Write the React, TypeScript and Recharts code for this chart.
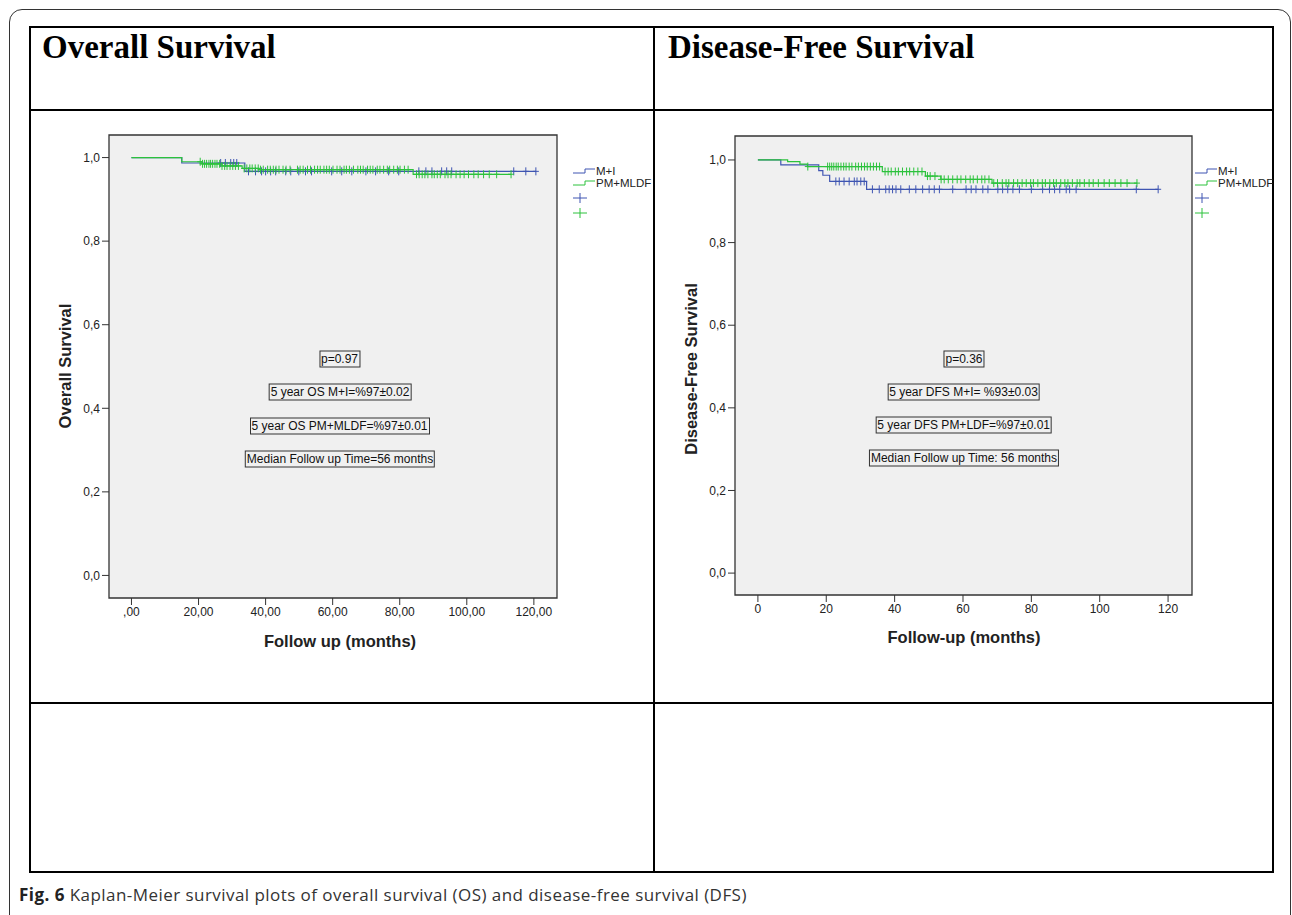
import React from "react";
import { ComposedChart, Line, Scatter, XAxis, YAxis, CartesianGrid, ReferenceArea } from "recharts";

const BLUE = "#3f55b2";
const GREEN = "#2cc23c";

const xTicks = [0, 20, 40, 60, 80, 100, 120];
const osXTickLabels = [",00", "20,00", "40,00", "60,00", "80,00", "100,00", "120,00"];
const dfsXTickLabels = ["0", "20", "40", "60", "80", "100", "120"];
const yTicks = [0, 0.2, 0.4, 0.6, 0.8, 1.0];
const yTickLabels = ["0,0", "0,2", "0,4", "0,6", "0,8", "1,0"];

// Overall survival, step curves (time in months, survival)
const osBlueTimes = [0, 15, 33.8, 120.6];
const osBlueSurv = [1, 0.987, 0.967, 0.967];
const osGreenTimes = [0, 15, 21, 27, 33, 38, 84, 113.2];
const osGreenSurv = [1, 0.99, 0.985, 0.98, 0.974, 0.971, 0.96, 0.96];

// censored cases
const osBlueCensor = [26.6, 28, 29.6, 30.5, 31.4, 34.9, 37, 38.8, 40, 41.5, 43, 46, 47.5, 49.9, 51.9, 53.7, 59.7, 62.7, 65.7, 69.9, 72.8, 76.7, 79.7, 85.7, 87.8, 89.6, 92.5, 94, 95.5, 114, 117.6, 120.6];
const osGreenCensor = [20.5, 21.2, 21.8, 22.4, 23.1, 23.6, 24.2, 24.9, 25.5, 26.3, 27.0, 27.8, 28.5, 29.4, 30.2, 31.0, 31.9, 33.6, 34.4, 35.3, 36.0, 36.9, 37.8, 38.5, 39.3, 40.6, 41.4, 42.3, 43.1, 44.0, 45.2, 46.1, 47.3, 49.5, 50.3, 51.2, 52.5, 53.4, 54.6, 55.5, 56.3, 57.4, 58.2, 59.0, 60.1, 61.3, 62.2, 63.4, 64.1, 65.0, 66.2, 67.5, 68.3, 69.1, 70.4, 71.2, 72.0, 73.3, 74.1, 75.2, 76.3, 77.0, 78.2, 79.3, 80.1, 81.4, 82.5, 85.0, 85.8, 86.7, 87.5, 88.4, 89.6, 90.3, 91.2, 92.1, 93.5, 94.4, 95.3, 96.8, 98.0, 99.2, 100.5, 102.1, 103.4, 105.0, 106.7, 108.9, 113.2];

// Disease-free survival
const dfsBlueTimes = [0, 6.7, 17.8, 19, 21, 31.8, 117.1];
const dfsBlueSurv = [1, 0.988, 0.974, 0.963, 0.948, 0.929, 0.929];
const dfsGreenTimes = [0, 8.7, 12.3, 14.5, 36.4, 49, 53.5, 68.5, 110.9];
const dfsGreenSurv = [1, 0.996, 0.99, 0.984, 0.972, 0.961, 0.953, 0.944, 0.944];

const dfsBlueCensor = [22.8, 23.8, 25.2, 26.7, 28.2, 29.0, 30.1, 31.1, 33.5, 35.5, 37.4, 38.4, 39.4, 40.4, 41.8, 44.3, 46.2, 48.2, 50.1, 51.6, 53.1, 57.0, 60.9, 62.4, 63.8, 65.8, 67.3, 70.2, 71.6, 73.1, 74.6, 76.5, 80.0, 83.3, 85.3, 86.8, 88.3, 90.2, 91.2, 93.1, 110.7, 117.1];
const dfsGreenCensor = [14.6, 20.4, 21.0, 21.6, 22.2, 22.9, 23.5, 24.3, 25.1, 25.8, 26.7, 27.5, 28.6, 29.4, 30.3, 31.2, 32.0, 32.9, 33.8, 34.7, 35.6, 37.2, 38.1, 39.0, 40.2, 41.1, 42.3, 43.5, 44.4, 45.6, 46.8, 48.0, 49.6, 50.4, 51.8, 53.6, 54.5, 55.7, 57.0, 58.3, 59.4, 60.8, 62.1, 63.0, 64.2, 65.5, 66.4, 67.6, 69.0, 70.1, 71.5, 72.6, 73.4, 74.8, 76.0, 77.3, 78.5, 79.8, 80.6, 81.9, 83.2, 84.1, 85.4, 86.5, 87.3, 88.6, 89.8, 90.7, 92.0, 93.4, 94.2, 95.5, 96.9, 98.1, 99.6, 101.3, 102.8, 104.5, 106.2, 108.0, 110.9];

type Pt = { t: number; s: number };

const toCurve = (times: number[], surv: number[]): Pt[] => times.map((t, i) => ({ t, s: surv[i] }));

// survival level of the step curve at the censoring time
const marksOn = (times: number[], surv: number[], cens: number[]): Pt[] =>
  cens.map((c) => {
    let s = surv[0];
    for (let i = 0; i < times.length; i++) if (times[i] <= c) s = surv[i];
    return { t: c, s };
  });

const cross = (color: string) => (props: any) => {
  const { cx, cy } = props;
  if (cx == null || cy == null) return <g />;
  return (
    <g>
      <line x1={cx - 3} x2={cx + 3} y1={cy} y2={cy} stroke={color} strokeWidth={1} />
      <line x1={cx} x2={cx} y1={cy - 4} y2={cy + 4} stroke={color} strokeWidth={1} />
    </g>
  );
};

const FONT = "'Liberation Sans', Arial, sans-serif";

interface PanelProps {
  left: number;
  top: number;
  margin: { top: number; right: number; bottom: number; left: number };
  xDomain: [number, number];
  yDomain: [number, number];
  xLabels: string[];
  blue: Pt[];
  green: Pt[];
  blueMarks: Pt[];
  greenMarks: Pt[];
}

function KMPanel(p: PanelProps) {
  return (
    <div style={{ position: "absolute", left: p.left, top: p.top }}>
      <ComposedChart width={600} height={540} margin={p.margin}>
        <CartesianGrid fill="#f0f0f0" horizontal={false} vertical={false} />
        <XAxis
          type="number"
          dataKey="t"
          domain={p.xDomain}
          allowDataOverflow
          ticks={xTicks}
          interval={0}
          tickFormatter={(v: number) => p.xLabels[xTicks.indexOf(v)]}
          axisLine={false}
          tickSize={7}
          tickLine={{ stroke: "#333" }}
          tick={{ fill: "#222", fontSize: 12, fontFamily: FONT }}
          height={30}
        />
        <YAxis
          type="number"
          dataKey="s"
          domain={p.yDomain}
          allowDataOverflow
          ticks={yTicks}
          interval={0}
          tickFormatter={(v: number) => yTickLabels[yTicks.indexOf(v)]}
          axisLine={false}
          tickSize={7}
          tickLine={{ stroke: "#333" }}
          tick={{ fill: "#222", fontSize: 12, fontFamily: FONT }}
          width={40}
        />
        <ReferenceArea
          x1={p.xDomain[0]}
          x2={p.xDomain[1]}
          y1={p.yDomain[0]}
          y2={p.yDomain[1]}
          fill="none"
          stroke="#333"
          strokeWidth={1.3}
          ifOverflow="visible"
        />
        <Line data={p.blue} dataKey="s" type="stepAfter" stroke={BLUE} strokeWidth={1.2} dot={false} isAnimationActive={false} />
        <Scatter data={p.blueMarks} dataKey="s" shape={cross(BLUE)} isAnimationActive={false} />
        <Line data={p.green} dataKey="s" type="stepAfter" stroke={GREEN} strokeWidth={1.2} dot={false} isAnimationActive={false} />
        <Scatter data={p.greenMarks} dataKey="s" shape={cross(GREEN)} isAnimationActive={false} />
      </ComposedChart>
    </div>
  );
}

function Legend({ x, y }: { x: number; y: number }) {
  return (
    <svg style={{ position: "absolute", left: x, top: y }} width={100} height={60}>
      <polyline points="0,7 12,7 12,3 22,3" fill="none" stroke={BLUE} strokeWidth={1} />
      <text x={23} y={6} dominantBaseline="middle" fontSize={11.5} fontFamily={FONT} fill="#222">M+I</text>
      <polyline points="0,19 12,19 12,15 22,15" fill="none" stroke={GREEN} strokeWidth={1} />
      <text x={23} y={18} dominantBaseline="middle" fontSize={11.5} fontFamily={FONT} fill="#222">PM+MLDF</text>
      <line x1={0} x2={14} y1={32} y2={32} stroke={BLUE} />
      <line x1={7} x2={7} y1={27} y2={37} stroke={BLUE} />
      <line x1={0} x2={14} y1={47} y2={47} stroke={GREEN} />
      <line x1={7} x2={7} y1={42} y2={52} stroke={GREEN} />
    </svg>
  );
}

function Note({ cx, cy, children }: { cx: number; cy: number; children: React.ReactNode }) {
  return (
    <div
      style={{
        position: "absolute",
        left: cx,
        top: cy,
        transform: "translate(-50%, -50%)",
        border: "1px solid #333",
        fontFamily: FONT,
        fontSize: 12,
        lineHeight: "15px",
        padding: "0 1px",
        whiteSpace: "nowrap",
        color: "#111",
      }}
    >
      {children}
    </div>
  );
}

function Title({ cx, cy, text, rotate }: { cx: number; cy: number; text: string; rotate?: boolean }) {
  return (
    <div
      style={{
        position: "absolute",
        left: cx,
        top: cy,
        transform: `translate(-50%, -50%)${rotate ? " rotate(-90deg)" : ""}`,
        fontFamily: FONT,
        fontWeight: "bold",
        fontSize: 16.5,
        whiteSpace: "nowrap",
        color: "#222",
      }}
    >
      {text}
    </div>
  );
}

const hLine = (x: number, y: number, w: number) => (
  <div style={{ position: "absolute", left: x, top: y - 1, width: w, height: 2, background: "#000" }} />
);
const vLine = (x: number, y: number, h: number) => (
  <div style={{ position: "absolute", left: x - 1, top: y, width: 2, height: h, background: "#000" }} />
);

const headStyle: React.CSSProperties = {
  position: "absolute",
  top: 29,
  fontFamily: "'Liberation Serif', 'Times New Roman', serif",
  fontWeight: "bold",
  fontSize: 33,
  whiteSpace: "nowrap",
};

export default function App() {
  return (
    <div style={{ position: "absolute", left: 0, top: 0, width: 1292, height: 915, overflow: "hidden", background: "#fff" }}>
      <div
        style={{
          position: "absolute",
          left: 9,
          top: 9,
          width: 1280,
          height: 1000,
          border: "1.5px solid #333",
          borderRadius: 13,
        }}
      />
      {hLine(30, 27, 1244)}
      {hLine(30, 110, 1244)}
      {hLine(30, 703, 1244)}
      {hLine(30, 872, 1244)}
      {vLine(30, 26, 847)}
      {vLine(654, 26, 847)}
      {vLine(1273, 26, 847)}

      <div style={{ ...headStyle, left: 42 }}>Overall Survival</div>
      <div style={{ ...headStyle, left: 668 }}>Disease-Free Survival</div>

      <KMPanel
        left={40}
        top={120}
        margin={{ top: 15, right: 83, bottom: 32, left: 29 }}
        xDomain={[-6.7, 126.9]}
        yDomain={[-0.054, 1.054]}
        xLabels={osXTickLabels}
        blue={toCurve(osBlueTimes, osBlueSurv)}
        green={toCurve(osGreenTimes, osGreenSurv)}
        blueMarks={marksOn(osBlueTimes, osBlueSurv, osBlueCensor)}
        greenMarks={marksOn(osGreenTimes, osGreenSurv, osGreenCensor)}
      />
      <KMPanel
        left={670}
        top={120}
        margin={{ top: 16, right: 78, bottom: 35, left: 25 }}
        xDomain={[-6.7, 127]}
        yDomain={[-0.053, 1.058]}
        xLabels={dfsXTickLabels}
        blue={toCurve(dfsBlueTimes, dfsBlueSurv)}
        green={toCurve(dfsGreenTimes, dfsGreenSurv)}
        blueMarks={marksOn(dfsBlueTimes, dfsBlueSurv, dfsBlueCensor)}
        greenMarks={marksOn(dfsGreenTimes, dfsGreenSurv, dfsGreenCensor)}
      />

      <Legend x={573} y={166} />
      <Legend x={1195} y={166} />

      <Title cx={340} cy={641} text="Follow up (months)" />
      <Title cx={65} cy={366} text="Overall Survival" rotate />
      <Title cx={964} cy={637} text="Follow-up (months)" />
      <Title cx={691} cy={369} text="Disease-Free Survival" rotate />

      <Note cx={339.5} cy={359}>p=0.97</Note>
      <Note cx={340} cy={391.5}>5 year OS M+I=%97±0.02</Note>
      <Note cx={339.5} cy={425.5}>5 year OS PM+MLDF=%97±0.01</Note>
      <Note cx={340} cy={458.5}>Median Follow up Time=56 months</Note>

      <Note cx={964} cy={359}>p=0.36</Note>
      <Note cx={963.5} cy={391.5}>5 year DFS M+I= %93±0.03</Note>
      <Note cx={963.7} cy={425}>5 year DFS PM+LDF=%97±0.01</Note>
      <Note cx={964} cy={458}>Median Follow up Time: 56 months</Note>

      <div style={{ position: "absolute", left: 19, top: 883, fontFamily: "'Open Sans', sans-serif", fontSize: 17, letterSpacing: 0.45, color: "#333", whiteSpace: "nowrap" }}>
        <span style={{ fontWeight: "bold", color: "#222" }}>Fig. 6</span> Kaplan-Meier survival plots of overall survival (OS) and disease-free survival (DFS)
      </div>
    </div>
  );
}
